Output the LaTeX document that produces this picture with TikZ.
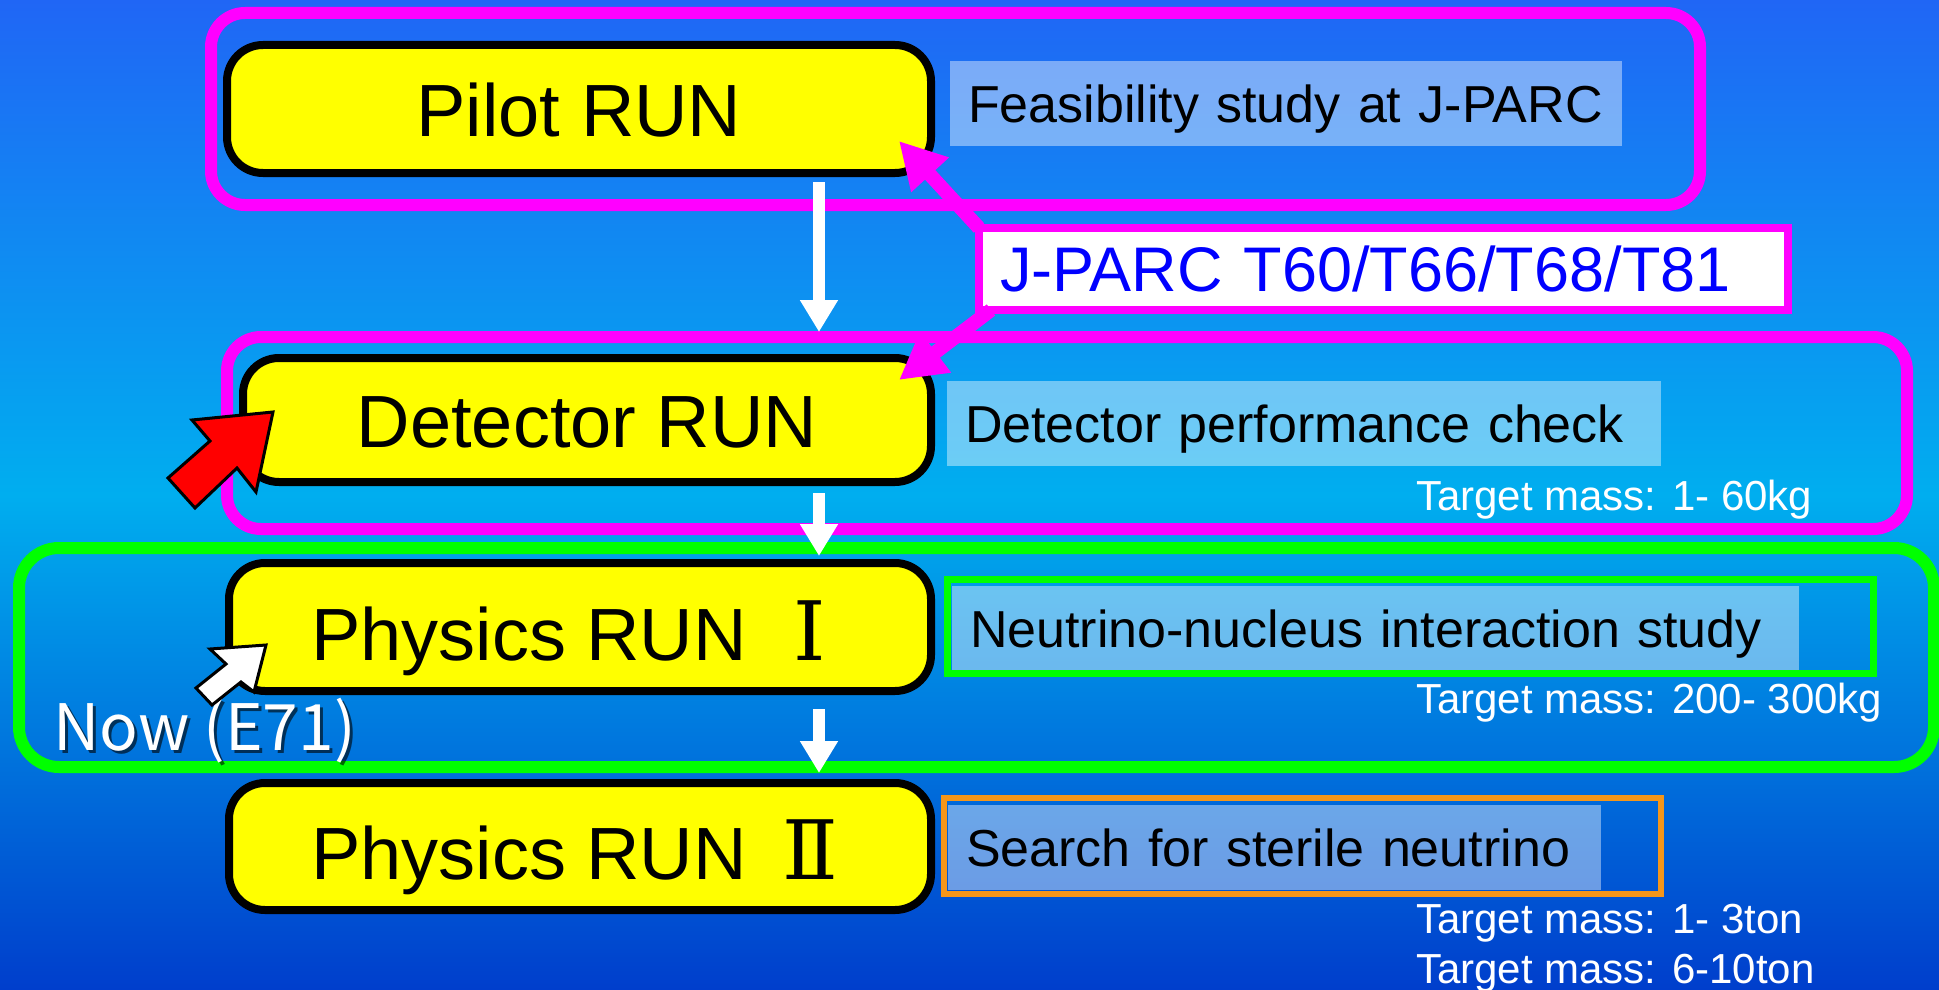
\documentclass[tikz,border=0pt]{standalone}
\usepackage{fontspec}
\setmainfont{Liberation Sans}
\newfontfamily\jpfont{Noto Sans CJK JP}
\newfontfamily\numfont{DejaVu Serif}
\usepackage{tikz}
\usetikzlibrary{arrows.meta}
\definecolor{bgtop}{RGB}{32,102,245}
\definecolor{bgmid}{RGB}{0,174,239}
\definecolor{bgbot}{RGB}{0,62,204}
\definecolor{mymagenta}{RGB}{255,0,255}
\definecolor{mygreen}{RGB}{0,255,0}
\definecolor{myorange}{RGB}{245,150,25}
\definecolor{myyellow}{RGB}{255,255,0}
\definecolor{myblue}{RGB}{0,0,255}

\tikzset{
  runbox/.style={draw=black,line width=8pt,fill=myyellow,rounded corners=36pt,
    minimum height=128pt,inner sep=0pt,outer sep=0pt,text height=54pt,text depth=0pt,
    font=\fontsize{74}{80}\selectfont},
  descbox/.style={fill=white,fill opacity=0.42,text opacity=1,anchor=west,
    inner xsep=18pt,inner ysep=0pt,outer sep=0pt,minimum height=85pt,align=left,
    text height=38pt,text depth=0pt,font=\fontsize{52}{60}\selectfont},
  massnote/.style={text=white,anchor=base west,inner sep=0pt,
    font=\fontsize{42}{48}\selectfont},
  stageframe/.style={line width=12pt,rounded corners=34pt},
  flowarrow/.style={white,line width=12pt,-{Triangle[length=32pt,width=36pt]}},
  linkarrow/.style={mymagenta,line width=14pt,-{Triangle[length=46pt,width=48pt]}},
  pointer/.style={draw=black,line width=3pt,line join=miter},
}
\newcommand\runnum[1]{\hspace{24pt}\makebox[78pt]{\numfont\fontsize{82}{82}\selectfont#1}}

\begin{document}
\begin{tikzpicture}[x=1pt,y=-1pt]
  \useasboundingbox (0,0) rectangle (1939,990);
  \shade[top color=bgtop,bottom color=bgbot,middle color=bgmid] (0,0) rectangle (1939,990);

  % stage frames
  \draw[stageframe,mymagenta] (211,13) rectangle (1700,205);
  \draw[stageframe,mymagenta] (227,337) rectangle (1907,529);
  \draw[stageframe,mygreen,rounded corners=40pt] (19,548) rectangle (1934,767);

  \node[runbox,minimum width=704pt] (pilot) at (579,109) {Pilot RUN};
  \node[runbox,minimum width=688pt,minimum height=124pt] (detector) at (587,420) {Detector RUN};
  \node[runbox,minimum width=702pt,text height=66pt] (phys1) at (580,627) {Physics RUN\runnum{Ⅰ}};
  \node[runbox,minimum width=702pt,minimum height=127pt,text height=66pt] (phys2) at (580,846.5)
    {Physics RUN\runnum{Ⅱ}};

  \node[descbox,text width=636pt] (feas) at (950,103.5) {Feasibility study at J-PARC};
  \node[descbox,text width=678pt] (perf) at (947,423.5) {Detector performance check};
  \draw[mygreen,line width=7pt] (947,579) rectangle (1873,673);
  \node[descbox,text width=811pt,minimum height=84pt] (nuint) at (952,628) {Neutrino-nucleus interaction study};
  \draw[myorange,line width=6pt] (944,798) rectangle (1661,894);
  \node[descbox,text width=617pt] (sterile) at (948,847.5) {Search for sterile neutrino};

  \node[massnote] (mass1) at (1416,510) {Target mass: 1- 60kg};
  \node[massnote] (mass2) at (1416,713) {Target mass: 200- 300kg};
  \node[massnote] (mass3) at (1416,933) {Target mass: 1- 3ton};
  \node[massnote] (mass4) at (1416,983) {Target mass: 6-10ton};

  \node[draw=mymagenta,line width=8pt,fill=white,text=myblue,anchor=west,outer sep=0pt,
    inner xsep=21pt,inner ysep=0pt,text width=767pt,align=left,minimum height=82pt,
    text height=45pt,text depth=0pt,font=\fontsize{63}{70}\selectfont] (jparc) at (979,269)
    {J-PARC T60/T66/T68/T81};
  \draw[linkarrow] (jparc.north west) -- ([shift={(-32,-32)}]pilot.south east);
  \draw[linkarrow] ([xshift=12]jparc.south west) -- ([shift={(-32,22)}]detector.north east);

  \coordinate (flowx) at (819,0);
  \foreach \from/\to/\s/\e in {pilot/detector/9/26,detector/phys1/11/7,phys1/phys2/18/10}
    \draw[flowarrow,shorten <=\s,shorten >=\e] (\from.south -| flowx) -- (\to.north -| flowx);

  \node[text=black,opacity=0.6,anchor=base west,inner sep=0pt,
    font=\jpfont\fontsize{64}{70}\selectfont] (nowshadow) at (56,753) {Now (E71)};
  \node[text=white,anchor=base west,inner sep=0pt,
    font=\jpfont\fontsize{64}{70}\selectfont] (now) at (53,750) {Now (E71)};

  \draw[pointer,fill=red] (273,412) -- (192,420) -- (210,441) -- (168,478)
    -- (195,508) -- (237,468) -- (256,492) -- cycle;
  \draw[pointer,fill=white] (266,645) -- (210,649) -- (226,664) -- (196,688)
    -- (212,705) -- (241,682) -- (254,692) -- cycle;
\end{tikzpicture}
\end{document}
